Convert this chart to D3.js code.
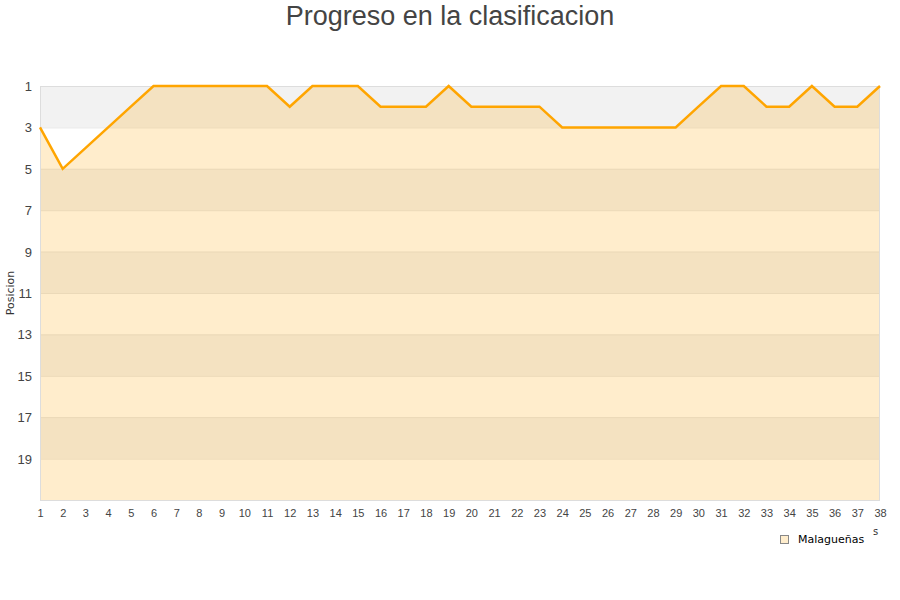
<!DOCTYPE html>
<html><head><meta charset="utf-8">
<script src="https://cdn.jsdelivr.net/npm/d3@7"></script>
<style>body{margin:0;background:#fff}svg{display:block}</style>
</head><body>
<script>
const jornadas = d3.range(1, 39);
const posiciones = [3,5,4,3,2,1,1,1,1,1,1,2,1,1,1,2,2,2,1,2,2,2,2,3,3,3,3,3,3,2,1,1,2,2,1,2,2,1];
const yTicks = [1,3,5,7,9,11,13,15,17,19];
const bandStarts = [1,5,9,13,17];
const title = "Progreso en la clasificacion";
const seriesName = "Malagueñas";

const W = 900, H = 600;
const svg = d3.select("body").append("svg").attr("width", W).attr("height", H)
  .style("font-family", "'DejaVu Sans', sans-serif");

const x = d3.scaleLinear().domain([1,38]).range([40,880]);
const y = d3.scaleLinear().domain([1,21]).range([86,500]);

svg.append("text").attr("x", 450).attr("y", 25).attr("text-anchor","middle")
  .style("font-family","'Liberation Sans', Arial, sans-serif").style("font-size","27px")
  .attr("fill","#444").text(title);

// bands
svg.selectAll("rect.band").data(bandStarts).join("rect")
  .attr("x", x(1)).attr("width", x(38)-x(1))
  .attr("y", d=>y(d)).attr("height", d=>y(d+2)-y(d))
  .attr("fill","#f2f2f2");

// grid lines
svg.selectAll("line.grid").data(yTicks.concat([21])).join("line")
  .attr("x1", x(1)).attr("x2", x(38)).attr("y1", d=>y(d)+0.5).attr("y2", d=>y(d)+0.5)
  .attr("stroke","#e6e6e6");

// area
const area = d3.area().x((d,i)=>x(jornadas[i])).y0(y(21)).y1(d=>y(d));
svg.append("path").datum(posiciones).attr("d", area)
  .attr("fill","#ffa500").attr("fill-opacity",0.2);

// border
svg.append("rect").attr("x", x(1)+0.5).attr("y", y(1)+0.5)
  .attr("width", x(38)-x(1)-1).attr("height", y(21)-y(1))
  .attr("fill","none").attr("stroke","#dddddd");

// line
const line = d3.line().x((d,i)=>x(jornadas[i])).y(d=>y(d));
svg.append("path").datum(posiciones).attr("d", line)
  .attr("fill","none").attr("stroke","#ffa500").attr("stroke-width",2.5);

// y axis labels
const yAxis = d3.axisLeft(y).tickValues(yTicks).tickSize(0).tickPadding(0);
const gy = svg.append("g").attr("transform","translate(32,0)").call(yAxis);
gy.select(".domain").remove();
gy.selectAll("text").attr("fill","#444").style("font-size","13px").attr("dy","0.35em");

// x axis labels
const xAxis = d3.axisBottom(x).tickValues(jornadas).tickSize(0).tickPadding(0).tickFormat(d3.format("d"));
const gx = svg.append("g").attr("transform","translate(0,509)").call(xAxis);
gx.select(".domain").remove();
gx.selectAll("text").attr("fill","#444").style("font-size","11px").attr("dy","0.71em");

// y title
svg.append("text").attr("transform","translate(14,293) rotate(-90)")
  .attr("text-anchor","middle").style("font-size","11px").attr("fill","#333").text("Posicion");

// x title fragment (as visible in reference)
svg.append("text").attr("x",873).attr("y",535)
  .style("font-size","10px").attr("fill","#333").text("s");

// legend
svg.append("rect").attr("x",780.5).attr("y",535.5).attr("width",8).attr("height",8)
  .attr("fill","#ffedcc").attr("stroke","#888").attr("stroke-width",1);
svg.append("text").attr("x",798).attr("y",543).style("font-size","11px").attr("fill","#000").text(seriesName);
</script>
</body></html>
